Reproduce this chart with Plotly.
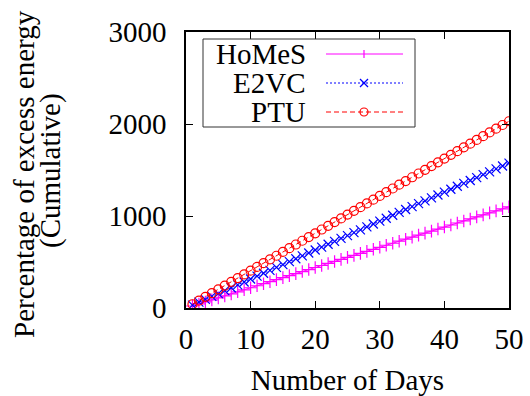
import plotly.graph_objects as go

days = list(range(1, 51))
homes = [22, 44, 66, 88, 110, 132, 154, 176, 198, 220, 242, 264, 286, 308, 330, 352, 374, 396, 418, 440,
         462, 484, 506, 528, 550, 572, 594, 616, 638, 660, 682, 704, 726, 748, 770, 792, 814, 836, 858, 880,
         902, 924, 946, 968, 990, 1012, 1034, 1056, 1078, 1100]
e2vc = [31, 63, 94, 126, 157, 189, 220, 252, 283, 315, 346, 378, 409, 441, 472, 504, 535, 567, 598, 630,
        661, 693, 724, 756, 787, 819, 850, 882, 913, 945, 976, 1008, 1039, 1071, 1102, 1134, 1165, 1197, 1228, 1260,
        1291, 1323, 1354, 1386, 1417, 1449, 1480, 1512, 1543, 1575]
ptu = [41, 81, 122, 162, 203, 244, 284, 325, 365, 406, 447, 487, 528, 568, 609, 650, 690, 731, 771, 812,
       853, 893, 934, 974, 1015, 1056, 1096, 1137, 1177, 1218, 1259, 1299, 1340, 1380, 1421, 1462, 1502, 1543, 1583, 1624,
       1665, 1705, 1746, 1786, 1827, 1868, 1908, 1949, 1989, 2030]

names = ["HoMeS", "E2VC", "PTU"]
colors = ["#ff00ff", "#0000ff", "#ff0000"]
dashes = ["solid", "2px,2px", "5px,3px"]
symbols = ["cross-thin-open", "x-thin-open", "circle-open"]
xticks = [0, 10, 20, 30, 40, 50]
yticks = [0, 1000, 2000, 3000]
ytitle_lines = ["Percentage of excess energy", "(Cumulative)"]

FONT = "Times New Roman, Liberation Serif, serif"
FS = 29
W, H = 530, 396
L, R, T, B = 186, 509, 32, 308

fig = go.Figure()
for name, ys, c, d, s in zip(names, [homes, e2vc, ptu], colors, dashes, symbols):
    fig.add_trace(go.Scatter(x=days, y=ys, name=name, mode="lines+markers",
                             line=dict(color=c, width=1, dash=d),
                             marker=dict(symbol=s, size=9, color=c, line=dict(width=1.2, color=c)),
                             showlegend=False))

def px(x):
    return (x - L) / (R - L)

def py(y):
    return (B - y) / (B - T)

shapes = []
annotations = []
# y-axis title as two tightly spaced rotated lines
for txt, cx, cy in zip(ytitle_lines, [24, 50], [174, 171]):
    annotations.append(dict(xref="paper", yref="paper", x=px(cx), y=py(cy), text=txt, showarrow=False,
                            textangle=-90, xanchor="center", yanchor="middle",
                            font=dict(family=FONT, size=FS, color="black")))
# legend box
shapes.append(dict(type="rect", xref="paper", yref="paper", x0=px(203), x1=px(415), y0=py(127), y1=py(39),
                   line=dict(color="#333333", width=1), fillcolor="white", layer="above"))
rows = [54, 83, 112]
for name, c, d, s, ry in zip(names, colors, dashes, symbols, rows):
    annotations.append(dict(xref="paper", yref="paper", x=px(308), y=py(ry), text=name, showarrow=False,
                            xanchor="right", yanchor="middle", font=dict(family=FONT, size=FS, color="black")))
    shapes.append(dict(type="line", xref="paper", yref="paper", x0=px(326), x1=px(403), y0=py(ry), y1=py(ry),
                       line=dict(color=c, width=1, dash=d), layer="above"))
    mx, r = 364, 4
    if s == "cross-thin-open":
        shapes.append(dict(type="line", xref="paper", yref="paper", x0=px(mx), x1=px(mx), y0=py(ry - r), y1=py(ry + r),
                           line=dict(color=c, width=1.2), layer="above"))
    elif s == "x-thin-open":
        shapes.append(dict(type="line", xref="paper", yref="paper", x0=px(mx - r), x1=px(mx + r), y0=py(ry - r), y1=py(ry + r),
                           line=dict(color=c, width=1.2), layer="above"))
        shapes.append(dict(type="line", xref="paper", yref="paper", x0=px(mx - r), x1=px(mx + r), y0=py(ry + r), y1=py(ry - r),
                           line=dict(color=c, width=1.2), layer="above"))
    else:
        shapes.append(dict(type="circle", xref="paper", yref="paper", x0=px(mx - r), x1=px(mx + r), y0=py(ry + r), y1=py(ry - r),
                           line=dict(color=c, width=1.2), layer="above"))

axis_common = dict(showgrid=False, zeroline=False, showline=True, linecolor="black", linewidth=1.5,
                   mirror="ticks", ticks="inside", ticklen=7, tickwidth=1, tickcolor="black", automargin=False,
                   tickfont=dict(family=FONT, size=FS, color="black"))

fig.update_layout(
    width=W, height=H, margin=dict(l=L, r=W - R, t=T, b=H - B),
    paper_bgcolor="white", plot_bgcolor="white",
    xaxis=dict(range=[0, 50], tickvals=xticks, ticklabelstandoff=4,
               title=dict(text="Number of Days", font=dict(family=FONT, size=FS, color="black"), standoff=16),
               **axis_common),
    yaxis=dict(range=[0, 3000], tickvals=yticks, ticklabelstandoff=12, **axis_common),
    shapes=shapes, annotations=annotations, showlegend=False,
)

fig.write_html("out.html")
